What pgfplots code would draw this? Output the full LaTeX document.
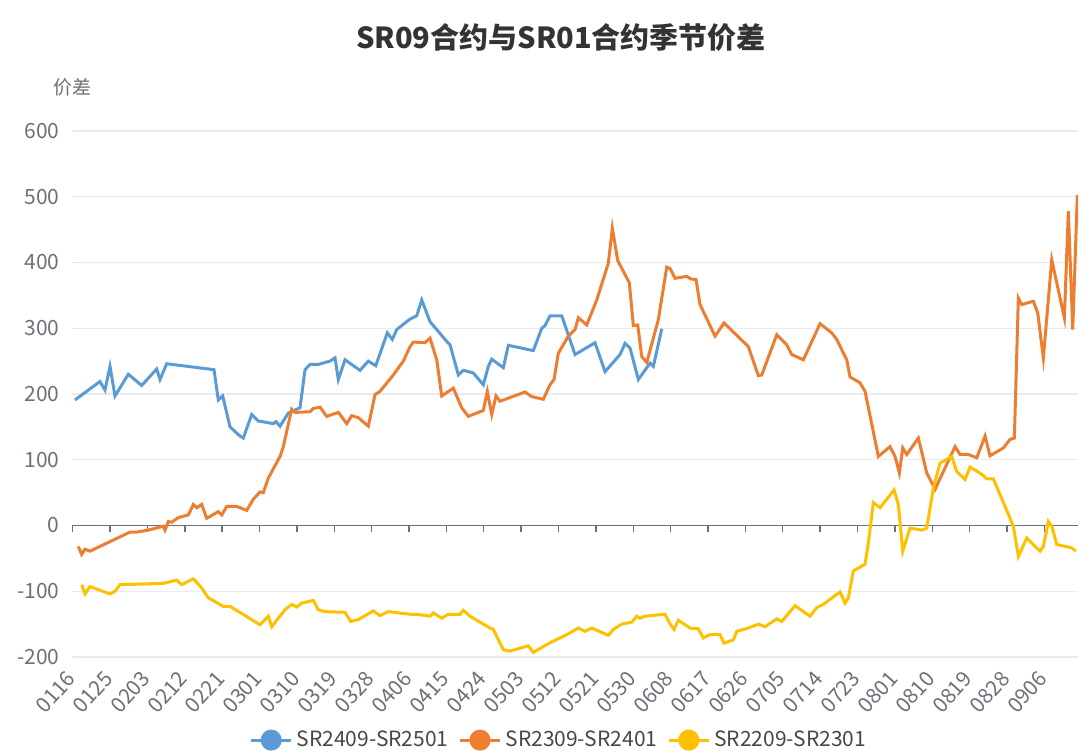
\documentclass[border=0pt]{standalone}
\usepackage{fontspec}
\setmainfont{Noto Sans CJK SC}
\usepackage{pgfplots}
\pgfplotsset{compat=1.18}
\usepackage{pgfplotstable}
\definecolor{cblue}{HTML}{5B9BD5}
\definecolor{corange}{HTML}{ED7D31}
\definecolor{cyellow}{HTML}{FFC000}
\definecolor{gridc}{HTML}{E6EBF5}
\definecolor{axisc}{HTML}{6E7079}
\definecolor{tickc}{HTML}{6E7079}
\definecolor{titlec}{HTML}{333333}

% px = horizontal position (chart pixels), v = spread value
\pgfplotstableread{
px v
75 191
100 219
105 206
110 242
115 197
128.3 230
141.7 213
156.7 238
160 222
166.7 246
214 237
218.3 191
222.7 197
230 150
240 136
243.3 133
251.7 169
258.3 159
273.3 155
276 158
280 151
288.3 171
300 179
305 237
310 245
318.3 245
330 250
335 255
338.3 222
345 252
360 236
368.3 250
375.7 243
387.3 293
392.3 283
396.7 298
410 314
416.7 319
421.7 343
430 310
446.7 280
450 275
458.3 229
463.3 236
473.3 232
483.3 214
488.3 242
491.7 253
503.3 240
508.3 274
533.3 266
541.7 300
545 304
550 319
561.7 319
575 260
595 278
605 234
620 260
625 277
630 270
638.3 222
650 247
653.3 242
661.7 299
}\sblue

\pgfplotstableread{
px v
78.3 -32
81.7 -44
85 -36
90 -39
130 -10
136.7 -10
148.3 -7
163.3 -1
165 -7
168.3 6
171.7 5
178.3 12
188.3 16
193.3 32
196.7 27
201.7 32
206.7 11
218.3 21
221.7 16
226.7 29
236.7 29
246.7 23
253.3 40
260 51
263.3 50
268.3 72
280 105
283.3 120
291.7 177
295 172
310 173
313.3 178
320 180
326.7 166
338.3 172
346.7 155
351.7 167
358.3 164
368.3 151
375 199
380 204
393.3 229
403.3 250
410 272
413.3 279
425 278
430 285
436.7 252
441.7 197
453.3 209
461.7 179
468.3 166
483.3 175
487.3 204
491.7 169
496 197
500 189
525 203
531.7 196
543.3 192
550 214
554 222
558.3 262
568.3 288
575 298
578.3 316
586.7 305
596.7 343
608.3 399
612.3 452
617.7 403
629.3 369
633.3 304
637.7 305
641.7 257
646.7 248
658.3 313
666.7 393
670 391
675 376
686.7 379
690.7 375
696 374
700 336
715 288
724 308
745 277
748.3 272
758.3 228
761.7 229
776.7 290
786.7 275
791.7 260
803.3 252
820 307
831.7 293
836.7 283
846.7 252
850 226
860 217
865 204
878.3 105
890 120
895 105
899.3 80
902.7 118
906.7 108
918.3 133
926.7 80
935 55
955 120
960 108
968.3 108
976.7 103
985 136
990 106
1003.3 118
1010 131
1014.3 133
1018.3 346
1021.7 336
1033.3 341
1037.7 323
1043.3 255
1051.7 404
1064.3 316
1068.3 478
1072.7 298
1077.3 503
}\sorange

\pgfplotstableread{
px v
81.7 -90
85 -104
90 -93
110 -104
115 -100
120 -90
163.3 -88
176.7 -83
181.7 -90
193.3 -81
201.7 -95
208.3 -110
223.3 -123
230 -123
260 -151
268.3 -138
271.7 -154
285 -128
291.7 -120
296.7 -124
301.7 -118
313.3 -114
318.3 -128
325 -131
345 -132
350.7 -146
358.3 -143
373.3 -130
380 -137
388.3 -131
410 -135
416.7 -135
430 -138
433.3 -133
441.7 -141
448.3 -135
460 -135
463.3 -129
470 -138
490 -156
493.3 -158
503.3 -189
510 -191
528.3 -183
533.3 -193
546.7 -181
553.3 -176
566.7 -166
578.3 -156
585 -161
591.7 -156
608.3 -167
613.3 -158
621.7 -150
631.7 -147
636.7 -138
640 -141
645 -138
665 -135
670 -150
674 -158
678.3 -144
690 -156
698.3 -157
703.3 -171
710 -166
720 -166
724 -179
733.3 -174
736.7 -161
748.3 -156
758.3 -150
765 -154
776.7 -142
781.7 -146
795 -122
810 -138
816.7 -125
823.3 -120
840 -101
845 -118
848.3 -110
853.3 -69
865 -59
868.3 -27
873.3 35
880 27
894 54
898.3 32
902.7 -39
910 -4
921.7 -7
926.7 -4
933.3 57
940 95
951.7 105
956.7 82
965 70
970 89
981.7 78
986.7 71
993.3 71
1005 29
1013.3 -1
1018.3 -47
1026.7 -19
1040 -39
1043.3 -32
1048.3 6
1051.7 -1
1056.7 -29
1071.7 -34
1075.7 -39
}\syellow

\begin{document}
\begin{tikzpicture}
\begin{axis}[
  at={(0,0)}, anchor=south west,
  scale only axis, width=503bp, height=263bp,
  xmin=-0.17, xmax=242.1, ymin=-200, ymax=600,
  clip mode=individual,
  axis line style={draw=none},
  major tick length=0pt,
  ytick={-200,-100,...,600},
  yticklabels={-200,-100,0,100,200,300,400,500,600},
  xtick={0,9,...,234},
  xticklabels={0116,0125,0203,0212,0221,0301,0310,0319,0328,0406,0415,0424,0503,0512,0521,0530,0608,0617,0626,0705,0714,0723,0801,0810,0819,0828,0906},
  ymajorgrids, grid style={color=gridc, line width=0.7bp},
  yticklabel style={font=\fontsize{10.5bp}{12bp}\selectfont, text=tickc, anchor=east, inner sep=0pt, xshift=-6bp},
  xticklabel shift=8bp,
  xticklabel style={font=\fontsize{10.5bp}{12bp}\selectfont, text=tickc, rotate=48, anchor=east, inner sep=0pt, xshift=-1bp},
  legend style={at={(0.485,-0.158)}, anchor=center, draw=none, fill=none,
    font=\fontsize{10.5bp}{12bp}\selectfont, text=titlec!90,
    legend columns=3,
    /tikz/every even column/.append style={column sep=3bp},
    /tikz/every odd column/.append style={column sep=0bp}},
  legend cell align=left,
  legend image code/.code={\draw[#1] (0bp,0bp)--(20bp,0bp); \fill[#1] (10bp,0bp) circle (4.5bp);},
]
\draw[color=axisc, line width=0.9bp] (axis cs:-0.17,0) -- (axis cs:242.1,0);
\pgfplotsinvokeforeach{0,9,...,234}{\draw[color=axisc, line width=0.7bp] (axis cs:#1,0) -- ++(0bp,-3bp);}
\addplot[color=cblue, line width=1.5bp, mark=none] table[x expr={(\thisrow{px}-72.7)/4.1522}, y=v] {\sblue};
\addlegendentry{SR2409-SR2501}
\addplot[color=corange, line width=1.5bp, mark=none] table[x expr={(\thisrow{px}-72.7)/4.1522}, y=v] {\sorange};
\addlegendentry{SR2309-SR2401}
\addplot[color=cyellow, line width=1.5bp, mark=none] table[x expr={(\thisrow{px}-72.7)/4.1522}, y=v] {\syellow};
\addlegendentry{SR2209-SR2301}
\end{axis}
\node[font=\fontsize{9.5bp}{11bp}\selectfont, text=tickc] at (0bp,285bp) {价差};
\node[font=\bfseries\fontsize{14.5bp}{17bp}\selectfont, text=titlec] at (244.5bp,309.5bp) {SR09合约与SR01合约季节价差};
\pgfresetboundingbox
\useasboundingbox (-36bp,-49.5bp) rectangle (509.5bp,328.5bp);
\end{tikzpicture}
\end{document}
